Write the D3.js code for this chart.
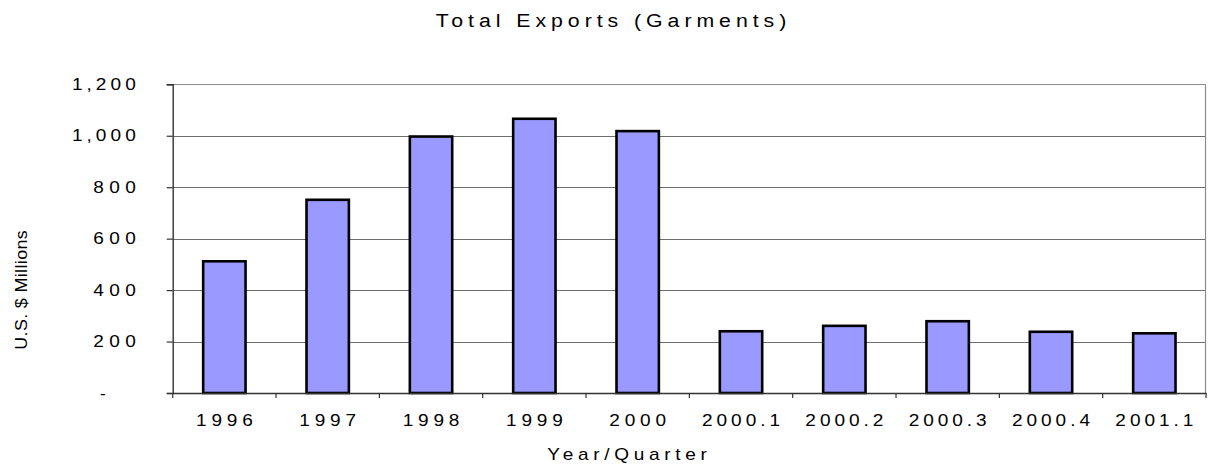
<!DOCTYPE html>
<html>
<head>
<meta charset="utf-8">
<script src="https://cdn.jsdelivr.net/npm/d3@7"></script>
<style>
  body { margin: 0; background: #fff; }
  svg text { font-family: "Liberation Sans", Arial, sans-serif; fill: #000; }
</style>
</head>
<body>
<svg id="chart" width="1209" height="470"></svg>
<script>
// data
const categories = ["1996", "1997", "1998", "1999", "2000", "2000.1", "2000.2", "2000.3", "2000.4", "2001.1"];
const exportsValues = [512, 751, 997, 1066, 1018, 240, 261, 279, 238, 232];
const yTicks = [0, 200, 400, 600, 800, 1000, 1200];
const yTickLabels = ["-", "200", "400", "600", "800", "1,000", "1,200"];

const svg = d3.select("#chart");
const plot = { left: 172.7, right: 1206, top: 84.3, bottom: 393 };

const x = d3.scaleBand()
  .domain(categories)
  .range([plot.left, plot.right])
  .paddingInner(0.59)
  .paddingOuter(0.295);
const step = x.step();

const y = d3.scaleLinear().domain([0, 1200]).range([plot.bottom, plot.top]);

// gridlines
svg.append("g").selectAll("line")
  .data(yTicks.filter(d => d > 0))
  .join("line")
  .attr("x1", plot.left).attr("x2", plot.right)
  .attr("y1", d => Math.round(y(d)) + 0.5).attr("y2", d => Math.round(y(d)) + 0.5)
  .attr("stroke", d => d === 1200 ? "#8c8c8c" : "#6e6e6e")
  .attr("stroke-width", 1.2);

// right edge of plot area
svg.append("line")
  .attr("x1", plot.right - 0.5).attr("x2", plot.right - 0.5)
  .attr("y1", y(1200)).attr("y2", y(0))
  .attr("stroke", "#8c8c8c").attr("stroke-width", 1.2);

// bars
svg.append("g").selectAll("rect")
  .data(categories.map((c, i) => ({ c, v: exportsValues[i] })))
  .join("rect")
  .attr("x", d => x(d.c))
  .attr("y", d => y(d.v))
  .attr("width", x.bandwidth())
  .attr("height", d => y(0) - y(d.v))
  .attr("fill", "#9999ff")
  .attr("stroke", "#000")
  .attr("stroke-width", 2.6);

// y axis
const yAxis = svg.append("g")
  .attr("transform", `translate(${plot.left},0)`)
  .call(d3.axisLeft(y).tickValues(yTicks).tickSize(6).tickPadding(31)
    .tickFormat((d, i) => yTickLabels[i]));
yAxis.select(".domain").attr("stroke", "#333").attr("stroke-width", 1.4);
yAxis.selectAll(".tick line").attr("stroke", "#333").attr("stroke-width", 1.2);
yAxis.selectAll("text")
  .attr("class", d => d === 0 ? "" : "stretch").attr("data-k", 1.5).attr("data-s", 1.12)
  .attr("dx", d => d === 0 ? -30 : 0)
  .attr("dy", "0.3em")
  .style("font-size", "17px");

// x axis: labels at centers, ticks at category boundaries
const xAxis = svg.append("g")
  .attr("transform", `translate(0,${plot.bottom})`)
  .call(d3.axisBottom(x).tickSize(0).tickPadding(21));
xAxis.select(".domain").attr("stroke", "#333").attr("stroke-width", 1.4);
xAxis.selectAll("text")
  .attr("class", "stretch").attr("data-k", 1.5).attr("data-s", 1.12)
  .style("font-size", "17px");
xAxis.append("g").selectAll("line")
  .data(categories.concat(["end"]))
  .join("line")
  .attr("x1", (d, i) => plot.left + i * step).attr("x2", (d, i) => plot.left + i * step)
  .attr("y1", 0).attr("y2", 5)
  .attr("stroke", "#333").attr("stroke-width", 1.2);

// titles
svg.append("text")
  .attr("class", "stretch").attr("data-k", 1.66).attr("data-s", 1.12)
  .attr("x", 611).attr("y", 27)
  .attr("text-anchor", "middle")
  .style("font-size", "19px")
  .text("Total Exports (Garments)");

svg.append("text")
  .attr("class", "stretch").attr("data-k", 1.65).attr("data-s", 1.12)
  .attr("x", 627).attr("y", 460)
  .attr("text-anchor", "middle")
  .style("font-size", "17px")
  .text("Year/Quarter");

svg.append("text")
  .attr("class", "stretch").attr("data-k", 1.1).attr("data-s", 1.05)
  .attr("transform", "translate(27,290) rotate(-90)")
  .attr("text-anchor", "middle")
  .style("font-size", "17px")
  .text("U.S. $ Millions");

// the reference text is drawn wide and letter-spaced:
// widen the glyphs by s, then spread the spacing to reach k times the natural length
svg.selectAll("text.stretch").each(function() {
  const k = +this.getAttribute("data-k");
  const s = +this.getAttribute("data-s");
  const len = this.getComputedTextLength();
  const t = d3.select(this);
  const x0 = +(t.attr("x") || 0);
  t.attr("x", x0 / s)
    .attr("transform", ((t.attr("transform") || "") + ` scale(${s},1)`).trim())
    .attr("textLength", len * k / s)
    .attr("lengthAdjust", "spacing");
});
</script>
</body>
</html>
